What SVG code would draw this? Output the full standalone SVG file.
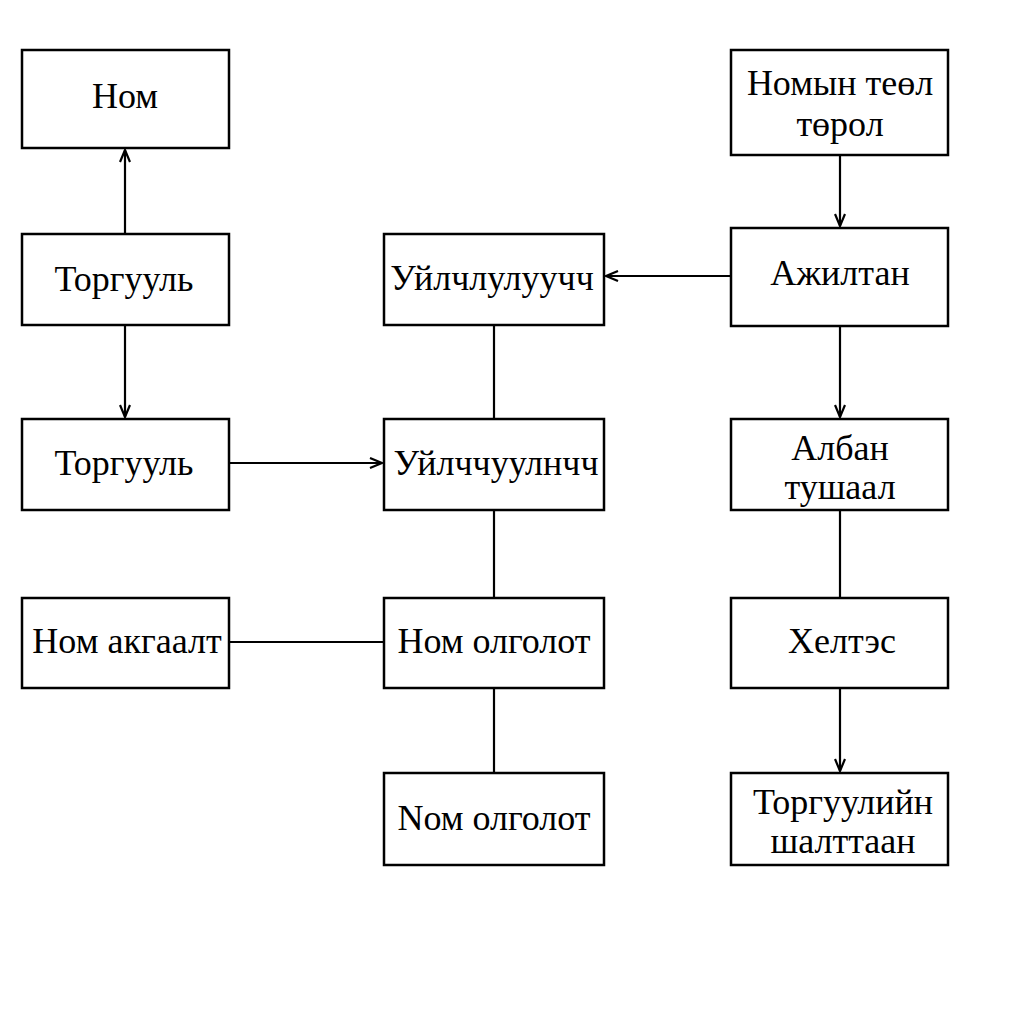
<svg xmlns="http://www.w3.org/2000/svg" width="1024" height="1024" viewBox="0 0 1024 1024">
<defs>
<style>
.box{fill:#fff;stroke:#000;stroke-width:2.5}
.t{font-family:"Liberation Serif","Times New Roman",serif;font-size:36px;fill:#000;text-anchor:middle}
.c{stroke:#000;stroke-width:2.2;fill:none}
</style>
<marker id="ar" viewBox="0 0 14 12" refX="13" refY="6" markerWidth="14" markerHeight="12" markerUnits="userSpaceOnUse" orient="auto">
<path d="M1,1 L13,6 L1,11" fill="none" stroke="#000" stroke-width="2.2"/>
</marker>
</defs>
<rect width="1024" height="1024" fill="#fff"/>
<g id="connectors">
<line class="c" x1="125" y1="234" x2="125" y2="150" marker-end="url(#ar)"/>
<line class="c" x1="125" y1="325" x2="125" y2="417" marker-end="url(#ar)"/>
<line class="c" x1="229" y1="463" x2="382" y2="463" marker-end="url(#ar)"/>
<line class="c" x1="494" y1="325" x2="494" y2="419"/>
<line class="c" x1="494" y1="510" x2="494" y2="598"/>
<line class="c" x1="229" y1="642" x2="384" y2="642"/>
<line class="c" x1="494" y1="688" x2="494" y2="773"/>
<line class="c" x1="840" y1="155" x2="840" y2="226" marker-end="url(#ar)"/>
<line class="c" x1="731" y1="276" x2="606" y2="276" marker-end="url(#ar)"/>
<line class="c" x1="840" y1="326" x2="840" y2="417" marker-end="url(#ar)"/>
<line class="c" x1="840" y1="510" x2="840" y2="598"/>
<line class="c" x1="840" y1="688" x2="840" y2="771" marker-end="url(#ar)"/>
</g>
<g id="n1"><rect class="box" x="22" y="50" width="207" height="98"/><text class="t" x="125" y="108">Ном</text></g>
<g id="n2"><rect class="box" x="22" y="234" width="207" height="91"/><text class="t" x="124" y="291">Торгууль</text></g>
<g id="n3"><rect class="box" x="22" y="419" width="207" height="91"/><text class="t" x="124" y="475">Торгууль</text></g>
<g id="n4"><rect class="box" x="22" y="598" width="207" height="90"/><text class="t" x="127" y="653">Ном акгаалт</text></g>
<g id="n5"><rect class="box" x="384" y="234" width="220" height="91"/><text class="t" x="492" y="290">Уйлчлулуучч</text></g>
<g id="n6"><rect class="box" x="384" y="419" width="220" height="91"/><text class="t" x="496" y="475">Уйлччуулнчч</text></g>
<g id="n7"><rect class="box" x="384" y="598" width="220" height="90"/><text class="t" x="494" y="653">Ном олголот</text></g>
<g id="n8"><rect class="box" x="384" y="773" width="220" height="92"/><text class="t" x="494" y="830">Nом олголот</text></g>
<g id="n9"><rect class="box" x="731" y="50" width="217" height="105"/><text class="t" x="840" y="95">Номын теөл</text><text class="t" x="840" y="136">төрол</text></g>
<g id="n10"><rect class="box" x="731" y="228" width="217" height="98"/><text class="t" x="840" y="285">Ажилтан</text></g>
<g id="n11"><rect class="box" x="731" y="419" width="217" height="91"/><text class="t" x="840" y="460">Албан</text><text class="t" x="840" y="499">тушаал</text></g>
<g id="n12"><rect class="box" x="731" y="598" width="217" height="90"/><text class="t" x="842" y="653">Хелтэс</text></g>
<g id="n13"><rect class="box" x="731" y="773" width="217" height="92"/><text class="t" x="843" y="814">Торгуулийн</text><text class="t" x="843" y="853">шалттаан</text></g>
</svg>
